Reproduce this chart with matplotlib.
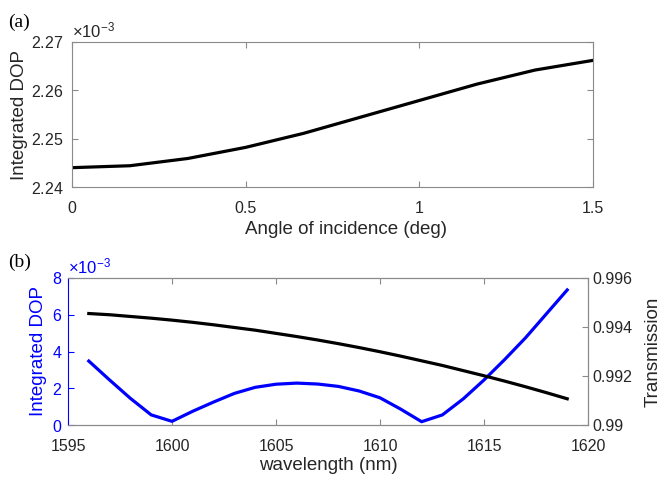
import numpy as np
import matplotlib
matplotlib.use("Agg")
import matplotlib.pyplot as plt

plt.rcParams['font.family'] = ['Liberation Sans', 'DejaVu Sans']
plt.rcParams['mathtext.fontset'] = 'custom'
plt.rcParams['mathtext.rm'] = 'Liberation Sans'

# panel (a): DOP vs angle of incidence
angle = [0, 1/6, 2/6, 0.5, 4/6, 5/6, 1.0, 7/6, 8/6, 1.5]
dop_angle = [2.2440e-3, 2.2444e-3, 2.2459e-3, 2.2482e-3, 2.2511e-3,
             2.2545e-3, 2.2579e-3, 2.2613e-3, 2.2642e-3, 2.2662e-3]

# panel (b): DOP and transmission vs wavelength
wavelength = list(range(1596, 1620))
dop_wl = [3.48e-3, 2.45e-3, 1.45e-3, 0.55e-3, 0.20e-3, 0.75e-3, 1.25e-3, 1.72e-3,
          2.05e-3, 2.22e-3, 2.28e-3, 2.23e-3, 2.10e-3, 1.85e-3, 1.48e-3, 0.86e-3,
          0.18e-3, 0.55e-3, 1.42e-3, 2.45e-3, 3.57e-3, 4.75e-3, 6.05e-3, 7.35e-3]
transmission = [0.99455, 0.99450, 0.99443, 0.99436, 0.99428, 0.99419, 0.99409, 0.99398,
                0.99387, 0.99374, 0.99361, 0.99347, 0.99332, 0.99316, 0.99299, 0.99281,
                0.99262, 0.99243, 0.99222, 0.99201, 0.99179, 0.99156, 0.99132, 0.99107]

W, H = 661, 479
fig = plt.figure(figsize=(W/100, H/100), dpi=100)

spine_col = '#8a8a8a'
txt_col = '#262626'
blue = '#0000ff'

def px_axes(l, t, r, b):
    return fig.add_axes([l/W, 1-b/H, (r-l)/W, (b-t)/H])

# (a)
ax1 = px_axes(72, 42, 593, 187)
ax1.plot(angle, dop_angle, color='black', lw=2.3)
ax1.set_xlim(0, 1.5)
ax1.set_ylim(2.24e-3, 2.27e-3)
ax1.set_xticks([0, 0.5, 1, 1.5])
ax1.set_xticklabels(['0', '0.5', '1', '1.5'])
ax1.set_yticks([2.24e-3, 2.25e-3, 2.26e-3, 2.27e-3])
ax1.ticklabel_format(axis='y', style='sci', scilimits=(-3, -3), useMathText=True, useOffset=False)
ax1.tick_params(direction='in', top=True, right=True, labelsize=11.5, colors=spine_col,
                labelcolor=txt_col, length=4, pad=6)
ax1.tick_params(axis='x', pad=10)
for s in ax1.spines.values():
    s.set_color(spine_col)
ax1.yaxis.get_offset_text().set_fontsize(12)
ax1.yaxis.get_offset_text().set_color(txt_col)
ax1.set_ylabel('Integrated DOP', fontsize=13.5, color=txt_col)
ax1.yaxis.set_label_coords(-44/521, 0.5)
ax1.set_xlabel('Angle of incidence (deg)', fontsize=13.5, color=txt_col)
ax1.xaxis.set_label_coords((346-72)/521, -(221-187)/145)
fig.text(8/W, 1-22/H, '(a)', fontsize=14, family='Liberation Serif', va='center', ha='left')

# (b)
ax2 = px_axes(68, 278, 588, 425)
ax2.plot(wavelength, dop_wl, color=blue, lw=2.3)
ax2.set_xlim(1595, 1620)
ax2.set_ylim(0, 8e-3)
ax2.set_xticks([1595, 1600, 1605, 1610, 1615, 1620])
ax2.set_yticks([0, 2e-3, 4e-3, 6e-3, 8e-3])
ax2.ticklabel_format(axis='y', style='sci', scilimits=(-3, -3), useMathText=True, useOffset=False)
ax2.tick_params(axis='x', direction='in', top=True, labelsize=11.5, colors=spine_col,
                labelcolor=txt_col, length=4, pad=10)
ax2.tick_params(axis='y', direction='in', labelsize=11.5, colors=blue, length=4, pad=4)
for k, s in ax2.spines.items():
    s.set_color(spine_col)
ax2.spines['left'].set_color(blue)
ax2.yaxis.get_offset_text().set_fontsize(12)
ax2.yaxis.get_offset_text().set_color(blue)
ax2.set_ylabel('Integrated DOP', fontsize=13.5, color=blue)
ax2.yaxis.set_label_coords(-21/520, 0.5)
ax2.set_xlabel('wavelength (nm)', fontsize=13.5, color=txt_col)
ax2.xaxis.set_label_coords(0.5, -(457-425)/147)

ax3 = ax2.twinx()
ax3.plot(wavelength, transmission, color='black', lw=2.3)
ax3.set_ylim(0.99, 0.996)
ax3.set_yticks([0.99, 0.992, 0.994, 0.996])
ax3.set_yticklabels(['0.99', '0.992', '0.994', '0.996'])
ax3.tick_params(axis='y', direction='in', labelsize=11.5, colors=spine_col,
                labelcolor=txt_col, length=4, pad=3)
for k, s in ax3.spines.items():
    s.set_color(spine_col)
ax3.spines['left'].set_visible(False)
ax3.set_ylabel('Transmission', fontsize=13.5, color=txt_col)
ax3.yaxis.set_label_coords(1 + 57/520, 0.5)
fig.text(8/W, 1-262/H, '(b)', fontsize=14, family='Liberation Serif', va='center', ha='left')

fig.savefig('out.png', dpi=100)
